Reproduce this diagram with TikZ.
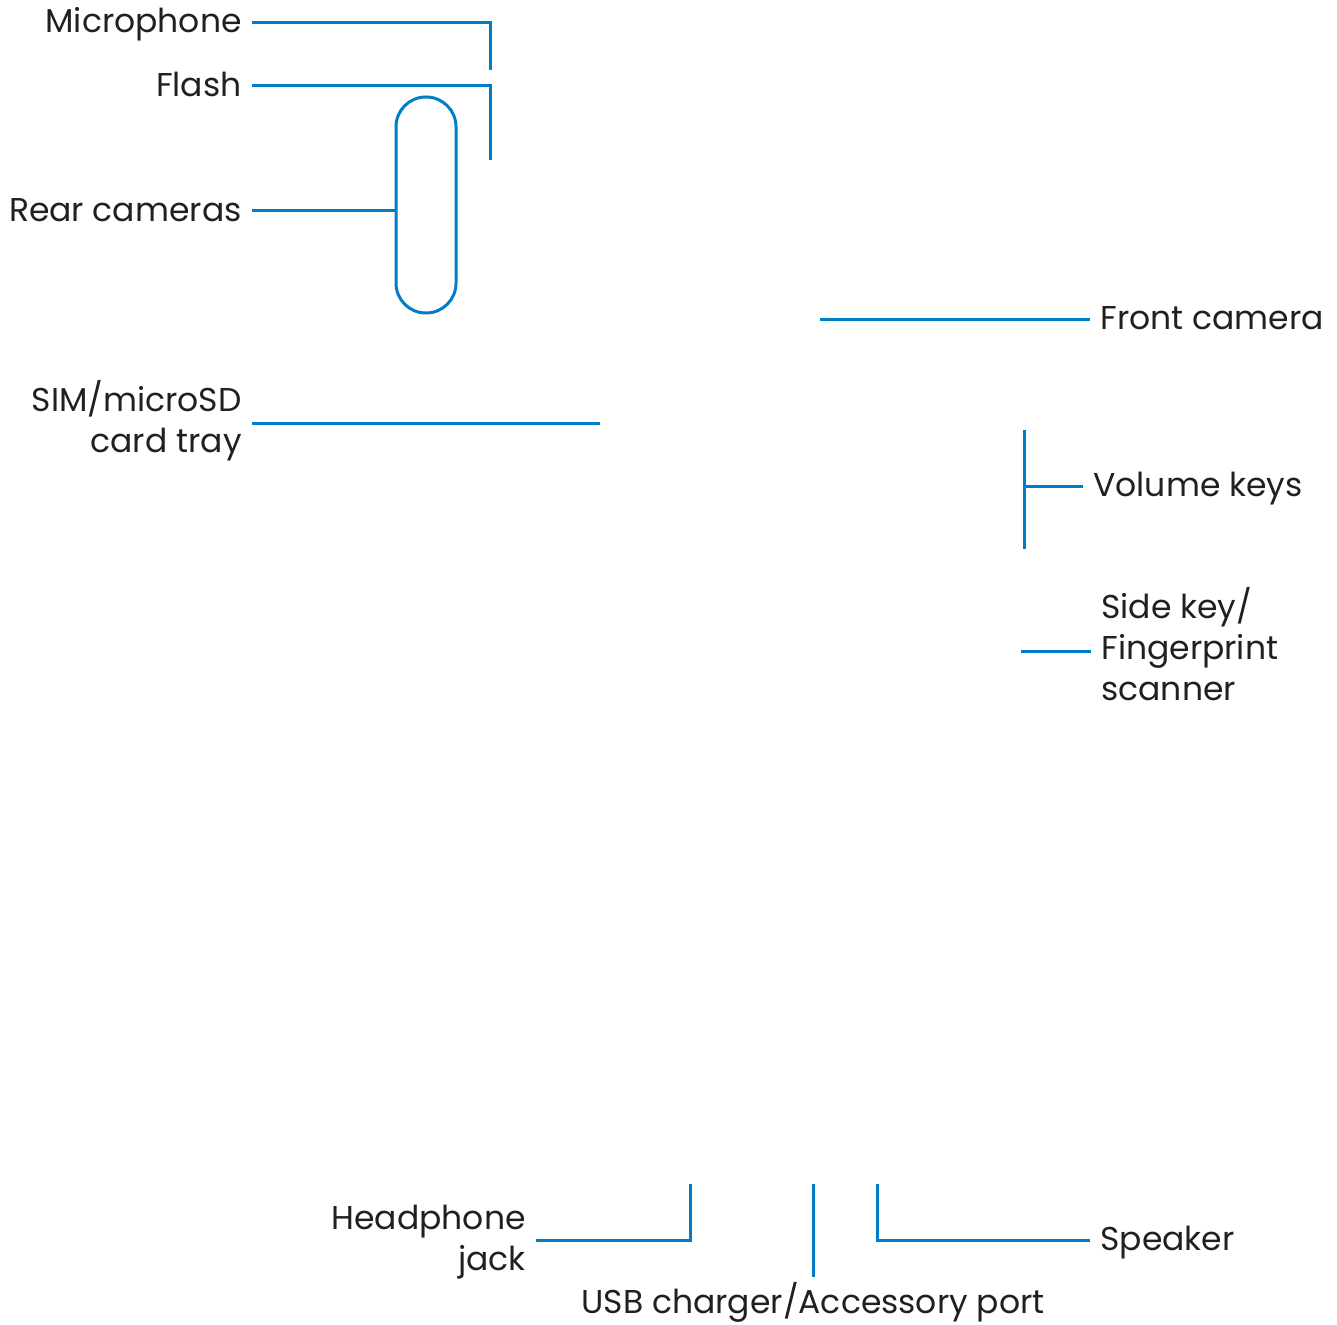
\documentclass[tikz,border=0pt]{standalone}
\usepackage{fontspec}
\setmainfont{Poppins}
\definecolor{callout}{RGB}{0,125,200}
\definecolor{ink}{RGB}{35,31,32}
\tikzset{
  lbl/.style={inner xsep=5pt, inner ysep=0pt, text=ink, font=\fontsize{16.5}{20.5}\selectfont},
  lblL/.style={lbl, anchor=base east, align=right},
  lblR/.style={lbl, anchor=base west, align=left},
  lead/.style={draw=callout, line width=1.5pt}
}
\begin{document}
\begin{tikzpicture}[x=0.5pt, y=-0.5pt]
    \useasboundingbox (0,0) rectangle (1337,1325);

    \node[lblL] (mic) at (252,33) {Microphone};
    \node[lblL] (flash) at (252,97) {Flash};
    \node[lblL] (rear) at (252,222) {Rear cameras};
    \node[lblL] (sim) at (252,453) {SIM/microSD\\card tray};
    \node[lblR] (front) at (1090,330) {Front camera};
    \node[lblR] (vol) at (1083,497) {Volume keys};
    \node[lblR] (side) at (1091,700) {Side key/\\Fingerprint\\scanner};
    \node[lblL] (jack) at (536,1270) {Headphone\\jack};
    \node[lblR] (spk) at (1090,1250) {Speaker};
    \node[lbl, anchor=base] (usb) at (813,1313) {USB charger/Accessory port};

    \coordinate (micbend) at (490,23);
    \coordinate (micend) at (490,70);
    \coordinate (flashbend) at (490,86);
    \coordinate (flashend) at (490,160);
    \coordinate (simend) at (600,424);
    \coordinate (frontend) at (820,320);
    \coordinate (voltop) at (1024,430);
    \coordinate (volbot) at (1024,549);
    \coordinate (volmid) at (1024,487);
    \coordinate (sideend) at (1021,651);
    \coordinate (jackbend) at (690,1240);
    \coordinate (jackend) at (690,1184);
    \coordinate (usbtop) at (813,1184);
    \coordinate (usbbot) at (813,1277);
    \coordinate (spkbend) at (877,1240);
    \coordinate (spkend) at (877,1184);

    \draw[lead, rounded corners=14.9pt] (396,97) rectangle (456,313);
    \coordinate (capleft) at (396,211);

    \draw[lead] (mic.base east |- micbend) -- (micbend) -- (micend);
    \draw[lead] (flash.base east |- flashbend) -- (flashbend) -- (flashend);
    \draw[lead] (rear.base east |- capleft) -- (capleft);
    \draw[lead] (sim.base east |- simend) -- (simend);
    \draw[lead] (front.base west |- frontend) -- (frontend);
    \draw[lead] (voltop) -- (volbot);
    \draw[lead] (vol.base west |- volmid) -- (volmid);
    \draw[lead] (side.base west |- sideend) -- (sideend);
    \draw[lead] (jack.base east |- jackbend) -- (jackbend) -- (jackend);
    \draw[lead] (usbtop) -- (usbbot);
    \draw[lead] (spk.base west |- spkbend) -- (spkbend) -- (spkend);
  \end{tikzpicture}
\end{document}
